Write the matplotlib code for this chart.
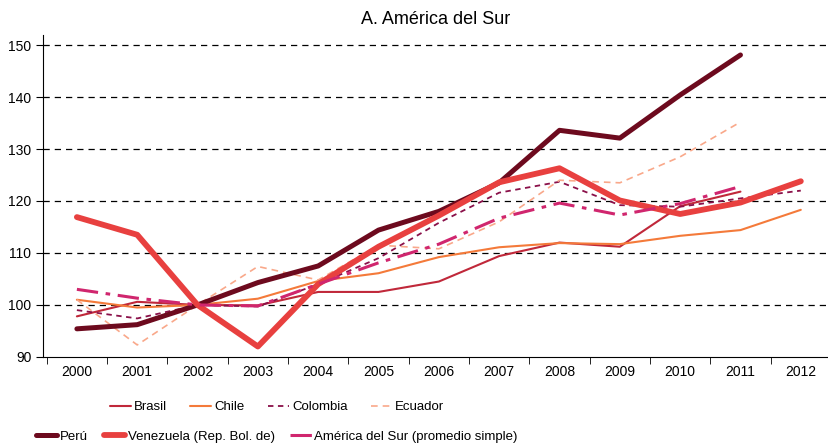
import matplotlib.pyplot as plt
from matplotlib.ticker import FixedLocator

plt.rcParams['font.family'] = ['Liberation Sans', 'DejaVu Sans']

anios = ["2000", "2001", "2002", "2003", "2004", "2005", "2006",
         "2007", "2008", "2009", "2010", "2011", "2012"]

brasil = [97.8, 100.6, 100.0, 99.9, 102.5, 102.5, 104.5, 109.4, 112.0, 111.2, 119.0, 121.8]
chile = [101.0, 99.5, 100.0, 101.2, 104.6, 106.1, 109.2, 111.1, 111.9, 111.7, 113.3, 114.4, 118.3]
colombia = [99.0, 97.4, 100.0, 99.7, 104.0, 109.0, 115.8, 121.6, 123.7, 119.2, 118.9, 120.5, 122.0]
ecuador = [101.0, 92.3, 100.0, 107.4, 104.8, 111.5, 110.8, 116.0, 124.0, 123.5, 128.5, 135.2]
peru = [95.4, 96.2, 100.0, 104.3, 107.5, 114.4, 118.0, 123.5, 133.6, 132.1, 140.4, 148.1]
venezuela = [116.9, 113.5, 100.0, 92.0, 104.0, 111.2, 117.2, 123.6, 126.3, 120.1, 117.5, 119.7, 123.8]
america_sur = [103.0, 101.3, 100.0, 99.8, 104.0, 108.1, 111.7, 116.7, 119.6, 117.3, 119.5, 122.8]

series = [
    ("Brasil", brasil, "#C0283A", 1.5, "-"),
    ("Chile", chile, "#F47A3A", 1.5, "-"),
    ("Colombia", colombia, "#8A1049", 1.3, (0, (3, 2.5))),
    ("Ecuador", ecuador, "#F9A88A", 1.2, (0, (4, 3))),
    ("Perú", peru, "#6D0A1E", 3.6, "-"),
    ("Venezuela (Rep. Bol. de)", venezuela, "#E8403F", 4.2, "-"),
    ("América del Sur (promedio simple)", america_sur, "#D0266E", 2.2, (0, (7, 2.5, 1.5, 2.5))),
]

fig = plt.figure(figsize=(8.29, 4.45), dpi=100)
ax = fig.add_axes([0.052, 0.198, 0.946, 0.724])

lineas = {}
for nombre, valores, color, ancho, estilo in series:
    x = list(range(len(valores)))
    ln, = ax.plot(x, valores, color=color, lw=ancho, ls=estilo, label=nombre,
                  solid_capstyle='round')
    lineas[nombre] = ln

ax.set_xlim(-0.56, 12.44)
ax.set_ylim(90, 152)
ax.set_yticks([90, 100, 110, 120, 130, 140, 150])
ax.set_xticks(range(len(anios)))
ax.set_xticklabels(anios)
ax.tick_params(axis='x', which='major', length=0, labelsize=10, pad=6)
ax.xaxis.set_minor_locator(FixedLocator([i + 0.5 for i in range(-1, 12)]))
ax.tick_params(axis='x', which='minor', length=5, direction='out')
ax.tick_params(axis='y', labelsize=10, length=5, direction='out')

for y in [100, 110, 120, 130, 140, 150]:
    ax.axhline(y, color='black', lw=0.9, ls=(0, (5, 4)), zorder=0)

ax.spines['top'].set_visible(False)
ax.spines['right'].set_visible(False)

ax.set_title("A. América del Sur", fontsize=13, pad=8)

# leyenda en dos filas, como en el original
fuente_leyenda = {'size': 9.5}
fila1 = ["Brasil", "Chile", "Colombia", "Ecuador"]
fila2 = ["Perú", "Venezuela (Rep. Bol. de)", "América del Sur (promedio simple)"]
leg1 = fig.legend([lineas[n] for n in fila1], fila1, loc='center', bbox_to_anchor=(0.334, 0.085),
                  ncol=4, frameon=False, prop=fuente_leyenda, handlelength=1.6,
                  handletextpad=0.2, columnspacing=1.8)
leg2 = fig.legend([lineas[n] for n in fila2], fila2, loc='center', bbox_to_anchor=(0.334, 0.018),
                  ncol=3, frameon=False, prop=fuente_leyenda, handlelength=1.6,
                  handletextpad=0.2, columnspacing=1.2)

fig.savefig("out.png", dpi=100)
